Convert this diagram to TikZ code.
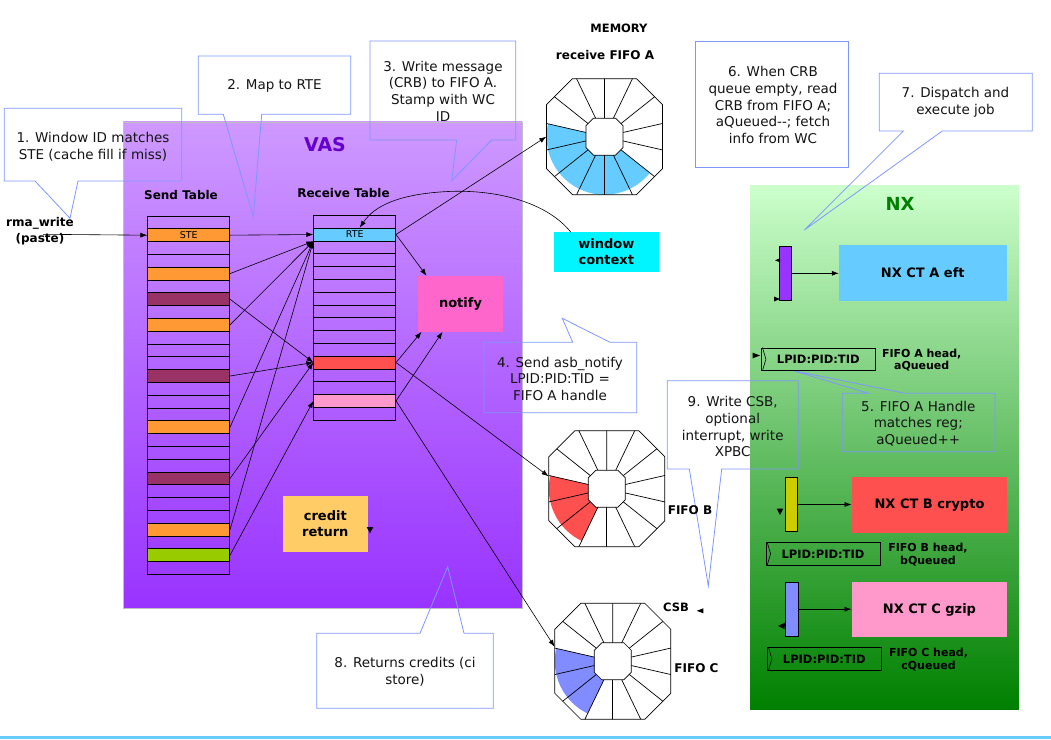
\documentclass[tikz,border=0pt]{standalone}
\usepackage{fontspec}
\setmainfont{DejaVu Sans}
\usetikzlibrary{arrows.meta,calc}
\definecolor{vasTop}{RGB}{206,153,255}
\definecolor{vasBot}{RGB}{153,51,255}
\definecolor{vasText}{RGB}{102,0,204}
\definecolor{nxTop}{RGB}{204,255,204}
\definecolor{nxBot}{RGB}{0,128,0}
\definecolor{calloutLine}{RGB}{128,150,255}
\definecolor{stOrange}{RGB}{255,153,51}
\definecolor{stMaroon}{RGB}{153,51,102}
\definecolor{stGreen}{RGB}{153,204,0}
\definecolor{rtCyan}{RGB}{102,204,255}
\definecolor{rtRed}{RGB}{255,80,80}
\definecolor{rtPink}{RGB}{255,153,204}
\definecolor{notifyPink}{RGB}{255,102,204}
\definecolor{wcCyan}{RGB}{0,245,255}
\definecolor{creditYellow}{RGB}{255,204,102}
\definecolor{barPurple}{RGB}{153,51,255}
\definecolor{barYellow}{RGB}{204,204,0}
\definecolor{barBlue}{RGB}{128,140,255}
\definecolor{lineBlue}{RGB}{102,204,255}

\newcommand{\fiforing}[5]{%
  \node[fifobox] (#1) at (#2) {};
  \begin{scope}[shift={(#2)}]
    \fill[#3] (0,0) -- (#4:58) arc[start angle=#4,end angle=#5,radius=58] -- cycle;
    \begin{scope}
      \clip (-32,-58) -- (32,-58) -- (58,-32) -- (58,32) -- (32,58) -- (-32,58) -- (-58,32) -- (-58,-32) -- cycle;
      \foreach \k in {0,...,13} \draw[line width=0.7pt] (0,0) -- ({90+\k*25.714}:90);
    \end{scope}
    \draw[line width=0.7pt,fill=white] (-11,-18.5) -- (11,-18.5) -- (18.5,-11) -- (18.5,11) -- (11,18.5) -- (-11,18.5) -- (-18.5,11) -- (-18.5,-11) -- cycle;
    \draw[line width=0.7pt] (-32,-58) -- (32,-58) -- (58,-32) -- (58,32) -- (32,58) -- (-32,58) -- (-58,32) -- (-58,-32) -- cycle;
  \end{scope}}

\begin{document}
\begin{tikzpicture}[x=1pt,y=-1pt,
  arr/.style={-{Latex[length=7pt,width=5pt]},line width=0.6pt},
  callout/.style={draw=calloutLine,line width=0.8pt},
  calltext/.style={align=center,inner sep=0,text=black!92,font=\fontsize{13.5}{16.7}\selectfont},
  cell/.style={draw,line width=0.7pt,minimum width=82pt,minimum height=12.8pt,inner sep=0},
  block/.style={inner sep=0,align=center,font=\bfseries\fontsize{13}{16}\selectfont},
  bar/.style={draw,line width=0.7pt,inner sep=0,minimum width=12pt,minimum height=54pt},
  handle/.style={draw,line width=0.8pt,inner sep=0,minimum width=114pt,minimum height=22.5pt,font=\bfseries\fontsize{11.5}{12}\selectfont},
  headtxt/.style={inner sep=0,align=center,font=\bfseries\fontsize{11}{12.4}\selectfont},
  tag/.style={inner sep=0,align=center,font=\bfseries\fontsize{12}{16.6}\selectfont},
  fifobox/.style={inner sep=0,minimum size=116pt},
  stub/.style={fill=black}]
\useasboundingbox (0,0) rectangle (1051,739);

\shade[top color=vasTop,bottom color=vasBot,draw=black!25,line width=0.4pt] (123.3,121.7) rectangle (522.3,608.3);
\shade[top color=nxTop,bottom color=nxBot] (750,185) rectangle (1019,709);
\draw[lineBlue,line width=3pt] (0,737.5) -- (1051,737.5);

\node[inner sep=0,text=vasText,font=\bfseries\fontsize{19}{22}\selectfont] (vasLbl) at (325,145) {VAS};
\node[inner sep=0,text=nxBot,font=\bfseries\fontsize{18}{22}\selectfont] (nxLbl) at (900,204) {NX};

% callouts
\draw[callout] (4.3,108.3) -- (181.7,108.3) -- (181.7,181) -- (78,181) -- (70,218.3) -- (35,181) -- (4.3,181) -- cycle;
\node[calltext] (c1) at (93,146.5) {1. Window ID matches\\STE (cache fill if miss)};
\draw[callout] (198.3,56) -- (350.7,56) -- (350.7,114.3) -- (261.7,114.3) -- (253.3,216.7) -- (223.3,114.3) -- (198.3,114.3) -- cycle;
\node[calltext] (c2) at (274.5,85.7) {2. Map to RTE};
\draw[callout] (370,41) -- (515.7,41) -- (515.7,140) -- (491.7,140) -- (451.7,180.7) -- (456.7,140) -- (370,140) -- cycle;
\node[calltext] (c3) at (443,91.2) {3. Write message\\(CRB) to FIFO A.\\Stamp with WC\\ID};
\draw[callout] (484,342.3) -- (572.7,342.3) -- (562.3,318.3) -- (610,342.3) -- (636.7,342.3) -- (636.7,412.7) -- (484,412.7) -- cycle;
\node[calltext] (c4) at (560,378.7) {4. Send asb\_notify\\LPID:PID:TID =\\FIFO A handle};
\draw[callout] (842.3,393.3) -- (868.3,393.3) -- (793.3,370.7) -- (905,393.3) -- (995,393.3) -- (995,451.7) -- (842.3,451.7) -- cycle;
\node[calltext] (c5) at (918.3,423.7) {5. FIFO A Handle\\matches reg;\\aQueued++};
\draw[callout] (695.7,41) rectangle (848.3,167.3);
\node[calltext] (c6) at (773,105) {6. When CRB\\queue empty, read\\CRB from FIFO A;\\aQueued-{}-; fetch\\info from WC};
\draw[callout] (879.3,73.3) -- (1032.3,73.3) -- (1032.3,131) -- (942.3,131) -- (804.3,230) -- (903.3,131) -- (879.3,131) -- cycle;
\node[calltext] (c7) at (955.5,102.5) {7. Dispatch and\\execute job};
\draw[callout] (316.7,633.3) -- (420,633.3) -- (447.7,566.7) -- (464,633.3) -- (493.3,633.3) -- (493.3,708.3) -- (316.7,708.3) -- cycle;
\node[calltext] (c8) at (405,671.7) {8. Returns credits (ci\\store)};
\draw[callout] (667.3,380.7) -- (798.3,380.7) -- (798.3,469) -- (721.7,469) -- (708.3,586) -- (689.3,469) -- (667.3,469) -- cycle;
\node[calltext] (c9) at (732.7,426.7) {9. Write CSB,\\optional\\interrupt, write\\XPBC};

% tables
\node[tag] (sendLbl) at (181,195) {Send Table};
\node[tag] (recvLbl) at (343.5,193.3) {Receive Table};
\foreach \c [count=\i] in {none,stOrange,none,none,stOrange,none,stMaroon,none,stOrange,none,none,none,stMaroon,none,
    none,none,stOrange,none,none,none,stMaroon,none,none,none,stOrange,none,stGreen,none}
  \node[cell,fill=\c] (s\i) at (188.7,{216+12.8*\i-6.4}) {};
\foreach \c [count=\i] in {none,rtCyan,none,none,none,none,none,none,none,none,none,rtRed,none,none,rtPink,none}
  \node[cell,fill=\c] (r\i) at (354.7,{215.3+12.8*\i-6.4}) {};
\node[inner sep=0,font=\fontsize{9.5}{10}\selectfont] (steLbl) at (s2) {STE};
\node[inner sep=0,font=\fontsize{9.5}{10}\selectfont] (rteLbl) at (r2) {RTE};

\node[tag] (rma) at (40,231) {rma\_write\\(paste)};
\coordinate (rmaIn) at (43,234.3);
\draw[arr] (rmaIn) -- (s2.west);

% boxes
\node[block,fill=notifyPink,minimum width=85.6pt,minimum height=55.7pt] (notify) at (460.5,303.8) {notify};
\node[block,fill=wcCyan,minimum width=104.7pt,minimum height=39.4pt] (wc) at (606.3,252) {window\\context};
\node[block,fill=creditYellow,minimum width=84.7pt,minimum height=55.7pt] (credit) at (325.3,523.8) {credit\\return};

% memory
\node[tag,font=\bfseries\fontsize{11.5}{14}\selectfont] (memLbl) at (619,28.3) {MEMORY};
\node[tag] (fifoALbl) at (605,55) {receive FIFO A};
\fiforing{fA}{604.5,136.7}{rtCyan}{38.57}{192.86}
\fiforing{fB}{606.8,488.7}{rtRed}{115.71}{192.86}
\fiforing{fC}{612.8,661.3}{barBlue}{115.71}{192.86}
\node[tag] (fifoBLbl) at (690,510) {FIFO B};
\node[tag] (fifoCLbl) at (696.5,668.3) {FIFO C};
\node[tag,font=\bfseries\fontsize{11.5}{14}\selectfont] (csbLbl) at (676,607.7) {CSB};

% arrows
\draw[arr] (s2.east) -- (r2.west);
\foreach \i in {5,9,17,25} \draw[arr] (s\i.east) -- (r2.south west);
\foreach \i in {7,13,21} \draw[arr] (s\i.east) -- (r12.west);
\draw[arr] (s27.east) -- (r15.west);
\draw[arr] (r2.east) -- (fA.west);
\draw[arr] (r2.east) -- ($(notify.north west)+(9,0)$);
\draw[arr] (r12.east) -- ($(notify.south west)+(4,0)$);
\draw[arr] (r12.east) -- (fB.168);
\draw[arr] (r15.east) -- ($(notify.south west)+(25,0)$);
\draw[arr] (r15.east) -- (fC.166);
\draw[arr] ($(wc.north west)+(17,0)$) .. controls (545,200) and (490,188) .. (440,192)
  .. controls (400,195) and (375,205) .. ($(r2.north)+(5,0)$);

% NX
\node[block,fill=rtCyan,minimum width=167.7pt,minimum height=55.7pt] (ctA) at (922.8,272.8) {NX CT A eft};
\node[block,fill=rtRed,minimum width=155.6pt,minimum height=55.4pt] (ctB) at (929.5,505) {NX CT B crypto};
\node[block,fill=rtPink,minimum width=155.6pt,minimum height=55pt] (ctC) at (929.5,609.8) {NX CT C gzip};
\node[bar,fill=barPurple] (barA) at (785.5,273.3) {};
\node[bar,fill=barYellow] (barB) at (791.5,504.5) {};
\node[bar,fill=barBlue,minimum width=13pt] (barC) at (792.2,609.2) {};
\foreach \b/\t in {barA/ctA,barB/ctB,barC/ctC} \draw[arr] (\b.east) -- (\b.east -| \t.west);
\node[handle] (lpA) at (818.3,359.2) {LPID:PID:TID};
\node[handle] (lpB) at (823,553.8) {LPID:PID:TID};
\node[handle] (lpC) at (824.3,658.8) {LPID:PID:TID};
\foreach \h in {lpA,lpB,lpC} \draw[line width=0.6pt] ($(\h.north west)+(1.5,0)$) -- ($(\h.west)+(5,0)$) -- ($(\h.south west)+(1.5,0)$);
\node[headtxt] (hdA) at (921.7,360) {FIFO A head,\\aQueued};
\node[headtxt] (hdB) at (928,554.5) {FIFO B head,\\bQueued};
\node[headtxt] (hdC) at (928.5,659.7) {FIFO C head,\\cQueued};

% loose tips
\fill[stub] (752.7,352.7) -- (760,355.5) -- (752.7,358.3) -- cycle;
\fill[stub] (780,258.3) -- (775,260.3) -- (780,262.3) -- cycle;
\fill[stub] (774,296.5) -- (780,299) -- (774,301.5) -- cycle;
\fill[stub] (776.7,508.5) -- (783.3,508.5) -- (780,515) -- cycle;
\fill[stub] (778,626) -- (785,622.7) -- (784.5,629) -- cycle;
\fill[stub] (366.7,527) -- (373.3,527) -- (370,533.3) -- cycle;
\fill[stub] (703.3,608.3) -- (696.7,610.8) -- (703.3,613.3) -- cycle;
\end{tikzpicture}
\end{document}
